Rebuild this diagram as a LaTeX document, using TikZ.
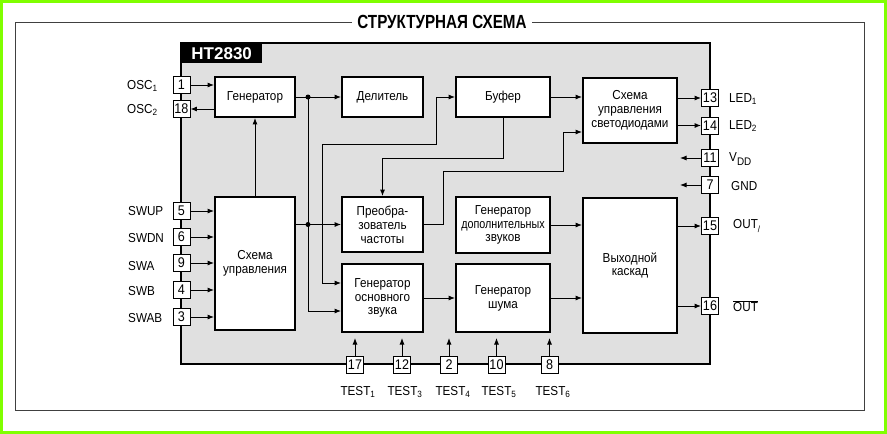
\documentclass[tikz,border=0pt]{standalone}
\usepackage{fontspec}
\setmainfont{Liberation Sans}
\newfontfamily\condsans[FakeStretch=0.9]{Liberation Sans}
\usepackage{graphicx}
\usetikzlibrary{arrows.meta}
\definecolor{framegreen}{RGB}{128,255,0}
\begin{document}
\begin{tikzpicture}[x=1pt,y=-1pt,
  blk/.style={draw,line width=1.8pt,fill=white,align=center,inner sep=0pt,font=\condsans\fontsize{13}{13.8}\selectfont},
  pin/.style={draw,line width=0.8pt,fill=white,minimum width=17pt,minimum height=17pt,inner sep=0pt,font=\condsans\fontsize{14}{14}\selectfont},
  lbl/.style={font=\condsans\fontsize{13}{13}\selectfont,inner sep=0pt},
  con/.style={line width=0.9pt,-{Latex[length=6.5pt,width=5pt]}},
  wire/.style={line width=0.9pt},
  jdot/.style={circle,fill,inner sep=0pt,minimum size=5pt}]
% page and frame
\fill[framegreen] (0,0) rectangle (887,434);
\fill[white] (3,3) rectangle (884,431);
\draw[black!75, line width=0.8pt] (352,22) -| (15,410) -| (864,22) -- (532,22);
\node[inner sep=0pt] (title) at (442,22) {\scalebox{0.8}[1]{\fontsize{19}{19}\selectfont\bfseries СТРУКТУРНАЯ СХЕМА}};
% chip
\node[draw,line width=1.8pt,fill=black!12,minimum width=529pt,minimum height=321pt,inner sep=0pt] (chip) at (445.5,203.5) {};
\node[fill=black,text=white,font=\bfseries\fontsize{17}{17}\selectfont,minimum width=81pt,minimum height=20pt,inner sep=0pt,anchor=north west] (ht) at (181,43) {HT2830};
% blocks
\node[blk,minimum width=80pt,minimum height=40pt] (gen) at (255,97) {Генератор};
\node[blk,minimum width=81pt,minimum height=40pt] (div) at (382.5,97) {Делитель};
\node[blk,minimum width=94pt,minimum height=40pt] (buf) at (503,97) {Буфер};
\node[blk,minimum width=94pt,minimum height=65pt] (led) at (630,110.5) {Схема\\управления\\светодиодами};
\node[blk,minimum width=80pt,minimum height=133pt] (ctl) at (255,263.5) {Схема\\управления};
\node[blk,minimum width=81pt,minimum height=55pt] (conv) at (382.5,224.5) {Преобра-\\зователь\\частоты};
\node[blk,minimum width=81pt,minimum height=68pt] (main) at (382.5,298) {Генератор\\основного\\звука};
\node[blk,minimum width=94pt,minimum height=56pt] (extra) at (503,225) {Генератор\\\scalebox{0.92}[1]{дополнительных}\\звуков};
\node[blk,minimum width=94pt,minimum height=68pt] (noise) at (503,298) {Генератор\\шума};
\node[blk,minimum width=94pt,minimum height=135pt] (out) at (630,265.5) {Выходной\\каскад};
% pins left
\node[pin] (p1) at (181.5,85) {1};
\node[pin] (p18) at (181.5,109) {18};
\node[pin] (p5) at (181.5,211) {5};
\node[pin] (p6) at (181.5,237) {6};
\node[pin] (p9) at (181.5,263) {9};
\node[pin] (p4) at (181.5,290) {4};
\node[pin] (p3) at (181.5,317) {3};
% pins right
\node[pin] (p13) at (710,98) {13};
\node[pin] (p14) at (710,125.5) {14};
\node[pin] (p11) at (710,158) {11};
\node[pin] (p7) at (710,185) {7};
\node[pin] (p15) at (710,226) {15};
\node[pin] (p16) at (710,306) {16};
% pins bottom
\node[pin] (p17) at (355,365) {17};
\node[pin] (p12) at (402,365) {12};
\node[pin] (p2) at (449,365) {2};
\node[pin] (p10) at (496.5,365) {10};
\node[pin] (p8) at (549.5,365) {8};
% labels
\node[lbl,anchor=west] (lo1) at (127,86) {OSC\textsubscript{1}};
\node[lbl,anchor=west] (lo2) at (127,110) {OSC\textsubscript{2}};
\node[lbl,anchor=west] (l5) at (128,211) {SWUP};
\node[lbl,anchor=west] (l6) at (128,238) {SWDN};
\node[lbl,anchor=west] (l9) at (128,266) {SWA};
\node[lbl,anchor=west] (l4) at (128,291) {SWB};
\node[lbl,anchor=west] (l3) at (128,318) {SWAB};
\node[lbl,anchor=west] (l13) at (729,99) {LED\textsubscript{1}};
\node[lbl,anchor=west] (l14) at (729,126) {LED\textsubscript{2}};
\node[lbl,anchor=west] (l11) at (729,159) {V\textsubscript{\fontsize{11}{11}\selectfont DD}};
\node[lbl,anchor=west] (l7) at (731,186) {GND};
\node[lbl,anchor=west] (l15) at (733,226) {OUT\raisebox{-4pt}{\fontsize{9}{9}\selectfont /}};
\node[lbl,anchor=west] (l16) at (733,306) {\(\overline{\mbox{OUT}}\)};
\node[lbl] (lt1) at (358,392) {TEST\textsubscript{1}};
\node[lbl] (lt3) at (405,392) {TEST\textsubscript{3}};
\node[lbl] (lt4) at (453,392) {TEST\textsubscript{4}};
\node[lbl] (lt5) at (499,392) {TEST\textsubscript{5}};
\node[lbl] (lt6) at (553,392) {TEST\textsubscript{6}};
% coordinates
\coordinate (j1) at (308,97);
\coordinate (j2) at (308,224.5);
\coordinate (c1) at (322,144);
\coordinate (c2) at (436,144);
\coordinate (b1) at (503,158);
\coordinate (d1) at (443,171);
\coordinate (d2) at (563,171);
\coordinate (v11) at (680,158);
\coordinate (v7) at (680,185);
\coordinate (t17) at (355,338);
\coordinate (t12) at (402,338);
\coordinate (t2) at (449,338);
\coordinate (t10) at (496.5,338);
\coordinate (t8) at (549.5,338);
% connectors
\draw[con] (p1.east) -- (p1.east -| gen.west);
\draw[con] (gen.west |- p18.east) -- (p18.east);
\draw[con] (gen.east) -- (div.west);
\draw[con] (ctl.north) -- (gen.south);
\draw[con] (ctl.east |- conv.west) -- (conv.west);
\draw[con] (j1) |- ([yshift=-13pt]main.west);
\draw[con] (c1) |- ([yshift=15pt]main.west);
\draw[con] (c1) -- (c2) |- (buf.west);
\draw[con] (buf.south) -- (b1) -| (conv.north);
\draw[con] (conv.east) -| (d1) -- (d2) |- ([yshift=-21.5pt]led.west);
\draw[con] (buf.east) -- (buf.east -| led.west);
\draw[con] (extra.east) -- (extra.east -| out.west);
\draw[con] (main.east) -- (noise.west);
\draw[con] (noise.east) -- (noise.east -| out.west);
\draw[con] (led.east |- p13.west) -- (p13.west);
\draw[con] (led.east |- p14.west) -- (p14.west);
\draw[con] (out.east |- p15.west) -- (p15.west);
\draw[con] (out.east |- p16.west) -- (p16.west);
\draw[con] (p11.west) -- (v11);
\draw[con] (p7.west) -- (v7);
\draw[con] (p5.east) -- (p5.east -| ctl.west);
\draw[con] (p6.east) -- (p6.east -| ctl.west);
\draw[con] (p9.east) -- (p9.east -| ctl.west);
\draw[con] (p4.east) -- (p4.east -| ctl.west);
\draw[con] (p3.east) -- (p3.east -| ctl.west);
\draw[con] (p17.north) -- (t17);
\draw[con] (p12.north) -- (t12);
\draw[con] (p2.north) -- (t2);
\draw[con] (p10.north) -- (t10);
\draw[con] (p8.north) -- (t8);
\node[jdot] at (j1) {};
\node[jdot] at (j2) {};
\end{tikzpicture}
\end{document}
